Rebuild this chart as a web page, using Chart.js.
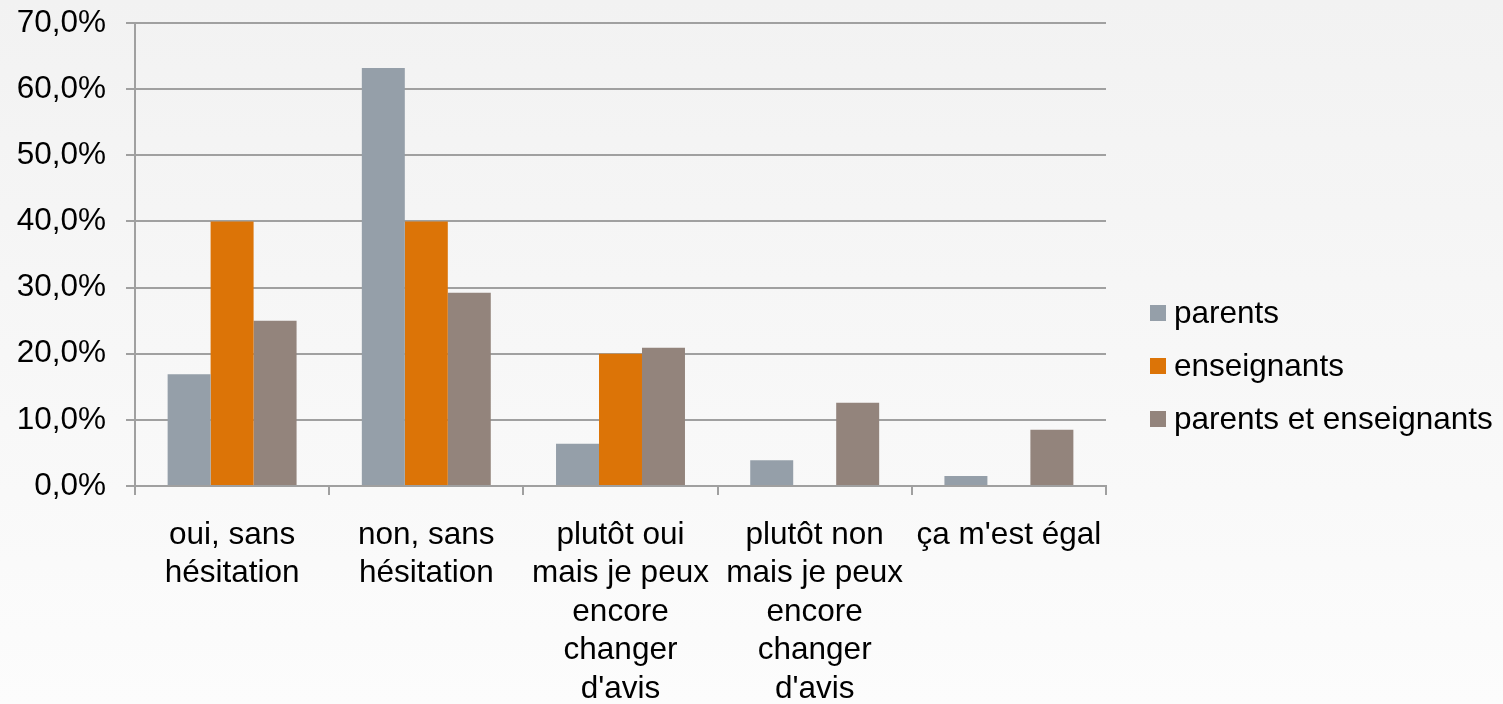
<!DOCTYPE html>
<html>
<head>
<meta charset="utf-8">
<script src="https://cdn.jsdelivr.net/npm/chart.js@4/dist/chart.umd.min.js"></script>
<style>
  html, body { margin: 0; padding: 0; background: #f6f6f6; }
  #wrap { width: 1503px; height: 704px; position: relative; }
</style>
</head>
<body>
<div id="wrap"><canvas id="c" width="1503" height="704"></canvas></div>
<script>
// ---- data ----
const categories = [
  ["oui, sans", "hésitation"],
  ["non, sans", "hésitation"],
  ["plutôt oui", "mais je peux", "encore", "changer", "d'avis"],
  ["plutôt non", "mais je peux", "encore", "changer", "d'avis"],
  ["ça m'est égal"]
];
const seriesNames = ["parents", "enseignants", "parents et enseignants"];
const parentsValues = [16.9, 63.2, 6.4, 3.9, 1.5];
const enseignantsValues = [40.0, 40.0, 20.0, 0, 0];
const parentsEnseignantsValues = [25.0, 29.2, 20.9, 12.6, 8.5];
const yTicks = [0, 10, 20, 30, 40, 50, 60, 70];

const colors = ["#959fa9", "#dc7407", "#93847c"];
const FONT = "'Liberation Sans', Arial, sans-serif";
const FS = 31.5;

const bgPlugin = {
  id: 'bg',
  beforeDraw(chart) {
    const ctx = chart.ctx;
    const g = ctx.createLinearGradient(0, 0, 0, chart.height);
    g.addColorStop(0, '#f2f2f2');
    g.addColorStop(1, '#fcfcfc');
    ctx.save();
    ctx.fillStyle = g;
    ctx.fillRect(0, 0, chart.width, chart.height);
    ctx.restore();
  }
};

// legend drawn from the chart's own datasets, placed to the right of the plot area
const sideLegend = {
  id: 'sideLegend',
  afterDraw(chart) {
    const ctx = chart.ctx;
    const ds = chart.data.datasets;
    const step = 53, box = 16, gap = 8;
    const cy = chart.height / 2 + 14;
    const x0 = chart.chartArea.right + 44;
    ctx.save();
    ctx.font = FS + 'px ' + FONT;
    ctx.textBaseline = 'middle';
    ctx.textAlign = 'left';
    ds.forEach((d, i) => {
      const y = cy + (i - (ds.length - 1) / 2) * step;
      ctx.fillStyle = d.backgroundColor;
      ctx.fillRect(x0, y - box / 2, box, box);
      ctx.fillStyle = '#000';
      ctx.fillText(d.label, x0 + box + gap, y + 1);
    });
    ctx.restore();
  }
};

new Chart(document.getElementById('c'), {
  type: 'bar',
  data: {
    labels: categories,
    datasets: [
      { label: seriesNames[0], data: parentsValues, backgroundColor: colors[0] },
      { label: seriesNames[1], data: enseignantsValues, backgroundColor: colors[1] },
      { label: seriesNames[2], data: parentsEnseignantsValues, backgroundColor: colors[2] }
    ]
  },
  options: {
    responsive: false,
    animation: false,
    events: [],
    datasets: { bar: { categoryPercentage: 0.664, barPercentage: 1.0, borderWidth: 0 } },
    layout: { padding: { top: 23, left: 0, right: 397, bottom: 0 } },
    scales: {
      x: {
        offset: true,
        grid: { display: true, drawOnChartArea: false, drawTicks: true, tickLength: 9, color: '#a0a0a0', lineWidth: 2, offset: true },
        border: { display: true, color: '#a0a0a0', width: 2 },
        ticks: { color: '#000', font: { family: FONT, size: FS, lineHeight: 1.22 }, padding: 21, maxRotation: 0, autoSkip: false },
        afterFit(scale) { scale.height = 218; }
      },
      y: {
        min: 0, max: 70,
        afterBuildTicks(scale) { scale.ticks = yTicks.map(v => ({ value: v })); },
        grid: { color: '#a0a0a0', lineWidth: 2, tickLength: 9, drawTicks: true },
        border: { display: true, color: '#a0a0a0', width: 2 },
        ticks: {
          color: '#000', font: { family: FONT, size: FS }, padding: 20,
          callback: v => v.toFixed(1).replace('.', ',') + '%'
        },
        afterFit(scale) { scale.width = 135; scale.paddingTop = 0; scale.paddingBottom = 0; }
      }
    },
    plugins: {
      legend: { display: false },
      tooltip: { enabled: false }
    }
  },
  plugins: [bgPlugin, sideLegend]
});
</script>
</body>
</html>
